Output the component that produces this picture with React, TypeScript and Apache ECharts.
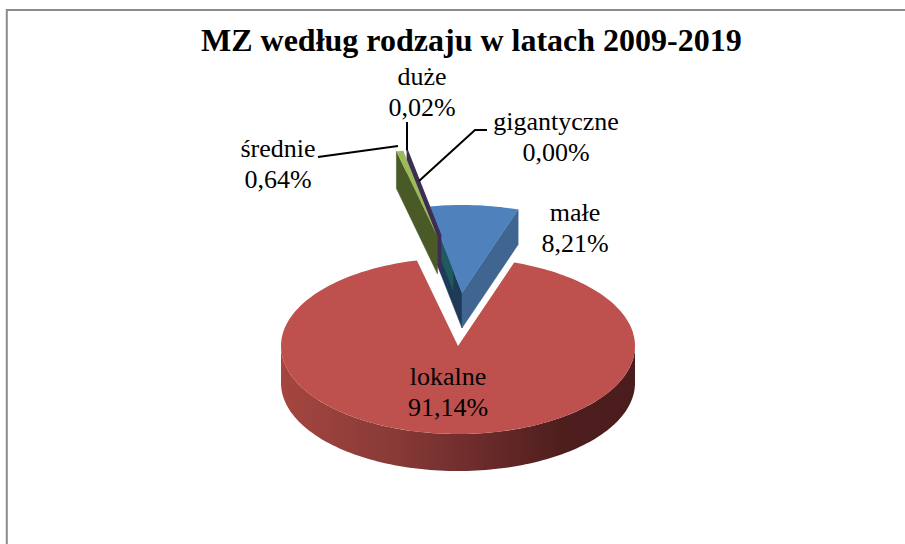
import React, { useEffect, useRef } from "react";
import * as echarts from "echarts";

const chartTitle = "MZ według rodzaju w latach 2009-2019";
const sliceNames = ["lokalne", "średnie", "duże", "gigantyczne", "małe"];
const sliceValues = [91.14, 0.64, 0.02, 0.0, 8.21];

const FONT = '"Liberation Serif", "Times New Roman", serif';
const START_ANGLE = 18.5;
const TOTAL = sliceValues.reduce((a, b) => a + b, 0);
const RX = 177;
const RY = 88;
const DEPTH = 37;

// per-slice look: exploded apex, colours, label place and leader line
const sliceLook = [
  {
    apex: [458, 346], depth: DEPTH, top: "#be504d", startFace: "#7a3230", endFace: "#7a3230",
    z: 1, label: [448, 392], leader: null,
  },
  {
    apex: [437.5, 237], depth: DEPTH, top: "#9bbb59", startFace: "#4a5a26", endFace: "#4a5a26",
    z: 5, label: [278, 164], leader: [[318, 157], [398, 146]],
  },
  {
    apex: [441, 236], depth: DEPTH, top: "#403152", startFace: "#3d2c55", endFace: "#3d2c55",
    z: 4, label: [422, 92], leader: [[407, 122], [407, 150]],
  },
  {
    apex: [453, 272], depth: 18, top: "#215968", startFace: "#1f5a5e", endFace: "#1f5a5e",
    z: 3, label: [556, 137], leader: [[487, 130], [475, 130], [419, 181]],
  },
  {
    apex: [462, 293], depth: 35, top: "#4f81bd", startFace: "#1f3a58", endFace: "#3f6590",
    z: 2, label: [575, 228], leader: null,
  },
];

const rad = (d: number) => (d * Math.PI) / 180;
const onRim = (c: number[], a: number, dy = 0) => [
  c[0] + RX * Math.sin(rad(a)),
  c[1] - RY * Math.cos(rad(a)) + dy,
];
const arcPoints = (c: number[], a0: number, a1: number, dy = 0) => {
  const n = Math.max(2, Math.ceil(Math.abs(a1 - a0) / 1.5));
  const pts: number[][] = [];
  for (let i = 0; i <= n; i++) pts.push(onRim(c, a0 + ((a1 - a0) * i) / n, dy));
  return pts;
};

function renderSlice(params: any, api: any) {
  const i = params.dataIndex;
  const look = sliceLook[i];
  let before = 0;
  for (let k = 0; k < i; k++) before += sliceValues[k];
  const value = api.value(0);
  const s = START_ANGLE + (before / TOTAL) * 360;
  const e = s + (value / TOTAL) * 360;
  const c = look.apex;
  const d = look.depth;
  const z = look.z * 10;
  const children: any[] = [];

  const face = (a: number, fill: string) => {
    const r = onRim(c, a);
    children.push({
      type: "polygon",
      z2: z,
      shape: { points: [c, r, [r[0], r[1] + d], [c[0], c[1] + d]] },
      style: { fill, stroke: fill, lineWidth: 0.5 },
    });
  };
  if (Math.sin(rad(s)) < 0) face(s, look.startFace);
  if (Math.sin(rad(e)) > 0) face(e, look.endFace);

  const lo = Math.max(s, 90);
  const hi = Math.min(e, 270);
  if (lo < hi) {
    const upper = arcPoints(c, lo, hi);
    const lower = arcPoints(c, hi, lo, d);
    children.push({
      type: "polygon",
      z2: z + 1,
      shape: { points: [...upper, ...lower] },
      style: {
        fill: new echarts.graphic.LinearGradient(0, 0, 1, 0, [
          { offset: 0, color: "#a5463f" },
          { offset: 0.3, color: "#8a3b38" },
          { offset: 0.55, color: "#6d2c2b" },
          { offset: 0.8, color: "#4d1e1d" },
          { offset: 1, color: "#4a1c1b" },
        ]),
      },
    });
  }

  const thin = e - s < 0.5;
  children.push({
    type: "polygon",
    z2: z + 2,
    shape: { points: [c, ...arcPoints(c, s, e)] },
    style: { fill: look.top, stroke: thin ? look.top : "none", lineWidth: thin ? 1.5 : 0 },
  });

  if (look.leader) {
    children.push({
      type: "polyline",
      z2: 80,
      shape: { points: look.leader },
      style: { fill: "none", stroke: "#000000", lineWidth: 2 },
    });
  }
  children.push({
    type: "text",
    z2: 90,
    x: look.label[0],
    y: look.label[1],
    style: {
      text: `${sliceNames[i]}\n${value.toFixed(2).replace(".", ",")}%`,
      font: `26px ${FONT}`,
      lineHeight: 31,
      fill: "#000000",
      align: "center",
      verticalAlign: "middle",
    },
  });
  return { type: "group", children };
}

export default function App() {
  const ref = useRef<HTMLDivElement>(null);
  useEffect(() => {
    document.body.style.margin = "0";
    const chart = echarts.init(ref.current!, undefined, { renderer: "svg" });
    chart.setOption({
      animation: false,
      backgroundColor: "#ffffff",
      title: {
        text: chartTitle,
        left: 201,
        top: 24,
        padding: 0,
        textStyle: { fontFamily: FONT, fontSize: 32, fontWeight: "bold", color: "#000000" },
      },
      graphic: [
        {
          type: "polyline",
          shape: { points: [[6.8, 544], [6.8, 10], [905, 10]] },
          style: { fill: "none", stroke: "#8c8c8c", lineWidth: 2 },
        },
      ],
      series: [
        {
          type: "custom",
          coordinateSystem: "none",
          silent: true,
          data: sliceValues.map((v) => [v]),
          renderItem: renderSlice,
        },
      ],
    });
    return () => chart.dispose();
  }, []);
  return <div ref={ref} style={{ width: 905, height: 544 }} />;
}
